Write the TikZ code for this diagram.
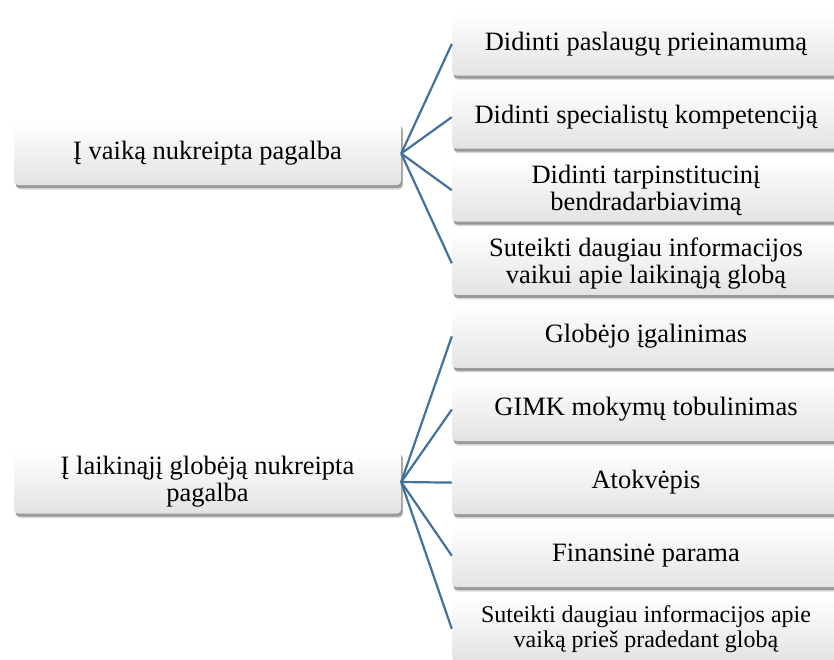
\documentclass[tikz,border=0pt]{standalone}
\usepackage{fontspec}
\setmainfont{Liberation Serif}
\usetikzlibrary{shadows,positioning}
\definecolor{linkblue}{RGB}{65,113,156}
\tikzset{
  box/.style={rounded corners=4pt, minimum width=388pt, minimum height=63pt,
    inner sep=2pt, align=center, top color=white, bottom color=black!11,
    draw=none, text=black,
    font=\fontsize{26.5pt}{27pt}\selectfont,
    drop shadow={shadow xshift=2pt, shadow yshift=-4.5pt, opacity=0.25, fill=black!60},
    drop shadow={shadow xshift=1.5pt, shadow yshift=-3pt, opacity=0.45, fill=black!70}},
  smallbox/.style={box, font=\fontsize{24pt}{25pt}\selectfont},
  link/.style={draw=linkblue, line width=2.2pt}
}
\begin{document}
\begin{tikzpicture}[x=1pt,y=-1pt]
\useasboundingbox (0,0) rectangle (834,659);
\clip (0,0) rectangle (834,659);
\node[box, minimum width=387pt] (L1) at (207.5,153.5) {Į vaiką nukreipta pagalba};
\node[box, minimum width=387pt] (L2) at (207.5,482) {Į laikinąjį globėją nukreipta\\pagalba};
\node[box] (R1) at (646,44) {Didinti paslaugų prieinamumą};
\node[box] (R2) at (646,117.1) {Didinti specialistų kompetenciją};
\node[box] (R3) at (646,190.2) {Didinti tarpinstitucinį\\bendradarbiavimą};
\node[box] (R4) at (646,263.3) {Suteikti daugiau informacijos\\vaikui apie laikinąją globą};
\node[box] (R5) at (646,336.4) {Globėjo įgalinimas};
\node[box] (R6) at (646,409.5) {GIMK mokymų tobulinimas};
\node[box] (R7) at (646,482.6) {Atokvėpis};
\node[box] (R8) at (646,555.7) {Finansinė parama};
\node[smallbox] (R9) at (646,628.8) {Suteikti daugiau informacijos apie\\vaiką prieš pradedant globą};
\foreach \r in {R1,R2,R3,R4} \draw[link] (L1.east) -- (\r.west);
\foreach \r in {R5,R6,R7,R8,R9} \draw[link] (L2.east) -- (\r.west);
\end{tikzpicture}
\end{document}
